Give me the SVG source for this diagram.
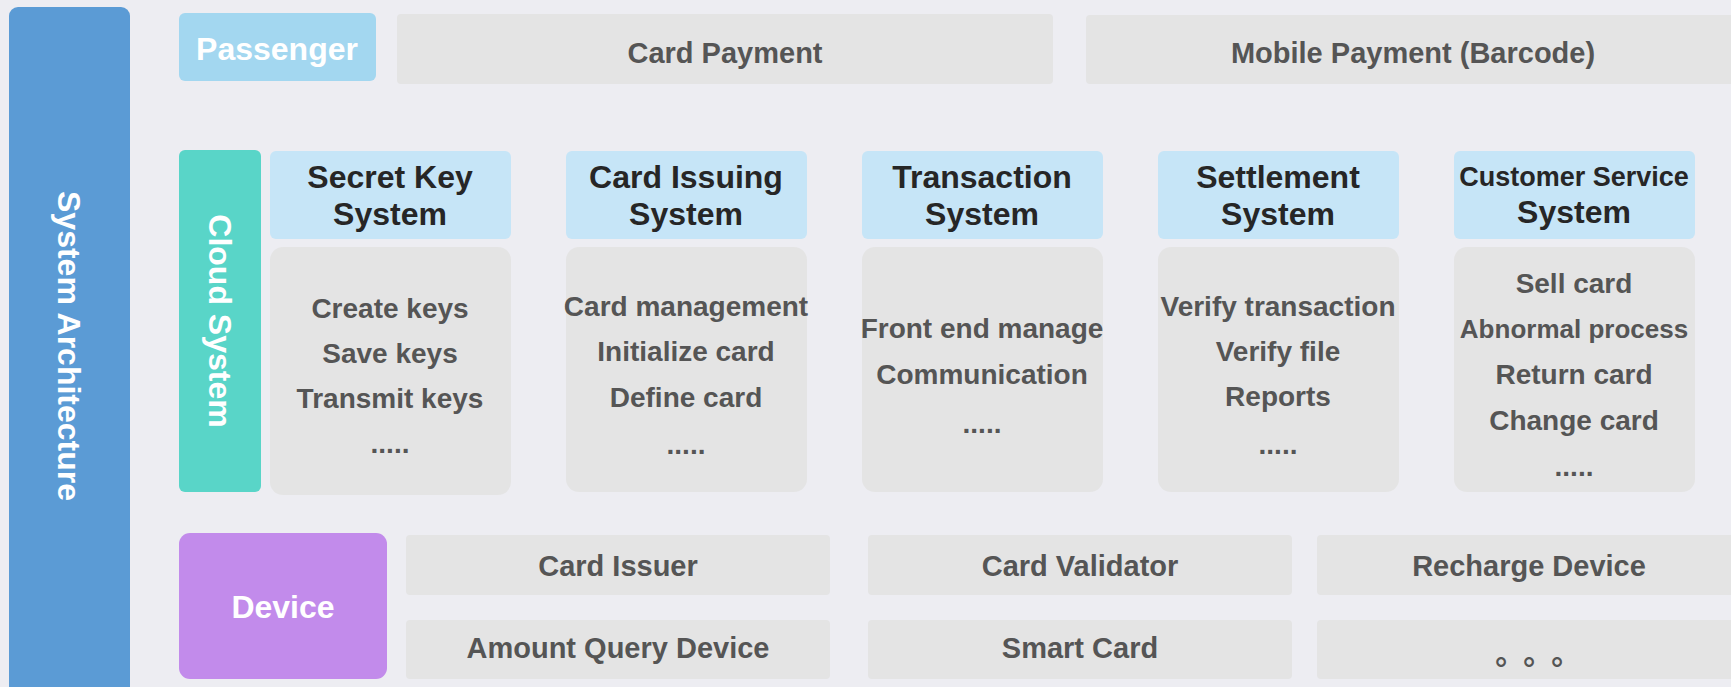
<svg xmlns="http://www.w3.org/2000/svg" width="1731" height="687" viewBox="0 0 1731 687">
<style>
text{font-family:"Liberation Sans",Arial,sans-serif;font-weight:bold;text-anchor:middle}
.w{fill:#ffffff;font-size:32px}
.h{fill:#262626;font-size:32px}
.c{fill:#555555;font-size:28px}
.t{fill:#555555;font-size:29px}
.gb{fill:#E4E4E4}
.hb{fill:#C6E5F7}
</style>
<rect x="0" y="0" width="1731" height="687" fill="#EDEDF2"/>
<g id="system-architecture">
<rect x="9" y="7" width="121" height="690" rx="9" fill="#5B9BD5"/>
<text class="w" transform="translate(69,346) rotate(90)" x="0" y="11">System Architecture</text>
</g>
<g id="passenger">
<rect x="179" y="13" width="197" height="68" rx="6" fill="#A3D7F0"/>
<text class="w" x="277" y="60">Passenger</text>
</g>
<g id="card-payment">
<rect class="gb" x="397" y="14" width="656" height="70" rx="4"/>
<text class="t" x="725" y="63">Card Payment</text>
</g>
<g id="mobile-payment">
<rect class="gb" x="1086" y="15" width="660" height="69" rx="4"/>
<text class="t" x="1413" y="63">Mobile Payment (Barcode)</text>
</g>
<g id="cloud-system">
<rect x="179" y="150" width="82" height="342" rx="6" fill="#59D5C8"/>
<text class="w" transform="translate(220,321) rotate(90)" x="0" y="11">Cloud System</text>
</g>
<g id="secret-key-system">
<rect class="hb" x="270" y="151" width="241" height="88" rx="6"/>
<text class="h" x="390" y="188">Secret Key</text>
<text class="h" x="390" y="225">System</text>
<rect class="gb" x="270" y="247" width="241" height="248" rx="13"/>
<text class="c" x="390" y="318">Create keys</text>
<text class="c" x="390" y="363">Save keys</text>
<text class="c" x="390" y="408">Transmit keys</text>
<text class="c" x="390" y="453">.....</text>
</g>
<g id="card-issuing-system">
<rect class="hb" x="566" y="151" width="241" height="88" rx="6"/>
<text class="h" x="686" y="188">Card Issuing</text>
<text class="h" x="686" y="225">System</text>
<rect class="gb" x="566" y="247" width="241" height="245" rx="13"/>
<text class="c" x="686" y="316">Card management</text>
<text class="c" x="686" y="361">Initialize card</text>
<text class="c" x="686" y="407">Define card</text>
<text class="c" x="686" y="454">.....</text>
</g>
<g id="transaction-system">
<rect class="hb" x="862" y="151" width="241" height="88" rx="6"/>
<text class="h" x="982" y="188">Transaction</text>
<text class="h" x="982" y="225">System</text>
<rect class="gb" x="862" y="247" width="241" height="245" rx="13"/>
<text class="c" x="982" y="338">Front end manage</text>
<text class="c" x="982" y="384">Communication</text>
<text class="c" x="982" y="433">.....</text>
</g>
<g id="settlement-system">
<rect class="hb" x="1158" y="151" width="241" height="88" rx="6"/>
<text class="h" x="1278" y="188">Settlement</text>
<text class="h" x="1278" y="225">System</text>
<rect class="gb" x="1158" y="247" width="241" height="245" rx="13"/>
<text class="c" x="1278" y="316">Verify transaction</text>
<text class="c" x="1278" y="361">Verify file</text>
<text class="c" x="1278" y="406">Reports</text>
<text class="c" x="1278" y="454">.....</text>
</g>
<g id="customer-service-system">
<rect class="hb" x="1454" y="151" width="241" height="88" rx="6"/>
<text class="h" x="1574" y="186" style="font-size:27px">Customer Service</text>
<text class="h" x="1574" y="223">System</text>
<rect class="gb" x="1454" y="247" width="241" height="245" rx="13"/>
<text class="c" x="1574" y="293">Sell card</text>
<text class="c" x="1574" y="338" style="font-size:26px">Abnormal process</text>
<text class="c" x="1574" y="384">Return card</text>
<text class="c" x="1574" y="430">Change card</text>
<text class="c" x="1574" y="476">.....</text>
</g>
<g id="device">
<rect x="179" y="533" width="208" height="146" rx="11" fill="#C28BEB"/>
<text class="w" x="283" y="618">Device</text>
</g>
<g id="card-issuer">
<rect class="gb" x="406" y="535" width="424" height="60" rx="4"/>
<text class="t" x="618" y="576">Card Issuer</text>
</g>
<g id="card-validator">
<rect class="gb" x="868" y="535" width="424" height="60" rx="4"/>
<text class="t" x="1080" y="576">Card Validator</text>
</g>
<g id="recharge-device">
<rect class="gb" x="1317" y="535" width="424" height="60" rx="4"/>
<text class="t" x="1529" y="576">Recharge Device</text>
</g>
<g id="amount-query-device">
<rect class="gb" x="406" y="620" width="424" height="59" rx="4"/>
<text class="t" x="618" y="658">Amount Query Device</text>
</g>
<g id="smart-card">
<rect class="gb" x="868" y="620" width="424" height="59" rx="4"/>
<text class="t" x="1080" y="658">Smart Card</text>
</g>
<g id="more-devices">
<rect class="gb" x="1317" y="620" width="424" height="59" rx="4"/>
<text class="t" x="1501 1529 1557" y="673" style="font-family:'Noto Sans CJK TC','Liberation Sans',sans-serif;font-size:30px">。。。</text>
</g>
<g id="connectors"></g>
</svg>
